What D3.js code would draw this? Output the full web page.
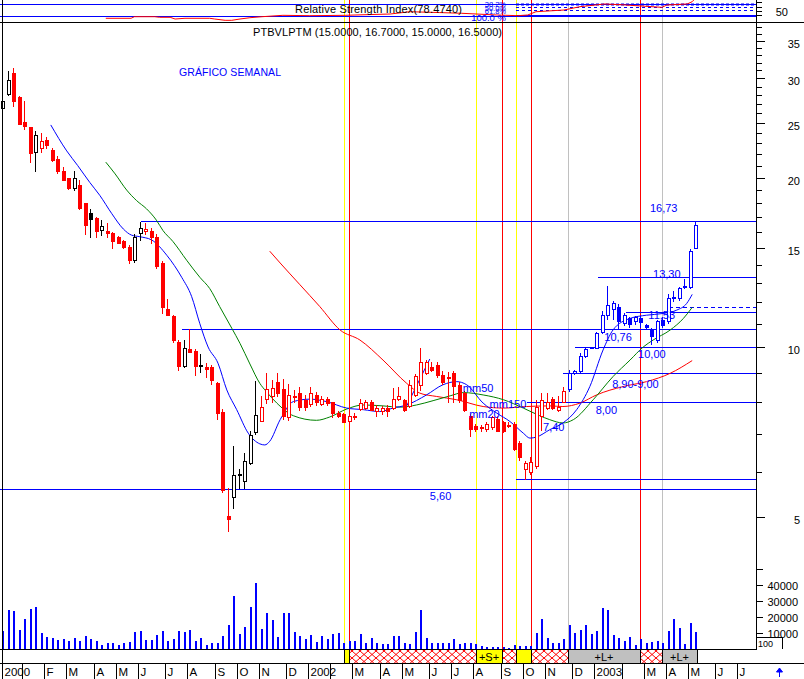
<!DOCTYPE html>
<html><head><meta charset="utf-8">
<script src="https://cdn.jsdelivr.net/npm/d3@7/dist/d3.min.js"></script>
<style>
html,body{margin:0;padding:0;background:#fff;}
svg{display:block;font-family:"Liberation Sans",Arial,sans-serif;}
</style></head><body>
<svg id="c" width="804" height="679"></svg>
<script>
// ---------------- DATA ----------------
const ticker = "PTBVLPTM";
const firstWeek = "2000-12-08";           // first weekly bar (Friday)
const opens = [26.6,28.2,30.7,27.8,25.1,24.6,22.2,22.6,23.3,22.4,
21.6,20.5,19.95,19.2,19.4,18.0,17.3,16.95,16.15,16.1,
15.95,15.7,15.4,15.05,14.3,15.95,16.1,16.1,15.7,14.1,
11.67,11.35,10.2,9.27,9.93,9.84,9.28,9.2,9.21,8.62,
7.68,5.02,5.42,5.93,5.79,6.22,7.05,7.4,8.07,8.17,
8.65,8.41,7.5,8.2,8.3,8.04,7.92,8.22,7.92,8.1,
7.98,7.63,7.6,7.4,7.55,7.76,7.8,8.0,7.7,7.7,
7.8,7.79,8.1,8.04,7.86,8.22,8.57,8.98,9.2,9.28,
8.92,8.85,8.98,8.57,8.28,7.55,7.25,7.2,7.16,7.2,
7.45,7.35,7.25,7.3,6.75,6.08,6.0,6.15,7.55,7.8,
8.1,7.74,8.0,8.43,9.0,9.05,9.62,9.98,9.95,10.62,
11.42,11.7,11.8,11.05,11.25,11.1,11.28,10.95,10.75,10.3,
11.15,11.1,12.2,12.2,12.85,12.8,15.0];
const highs = [27.6,30.9,31.3,27.9,27.4,24.6,24.2,24.0,23.6,22.6,
21.8,20.9,20.0,20.5,19.8,18.0,17.6,17.0,16.8,16.6,
16.0,15.75,15.5,15.2,15.9,16.7,16.6,16.3,15.9,14.2,
12.15,11.4,10.3,10.29,10.75,9.9,9.7,9.35,9.29,8.65,
7.75,5.62,6.66,6.06,6.48,7.08,8.71,8.2,8.98,8.74,
9.0,8.79,8.6,8.39,8.5,8.22,8.48,8.33,8.2,8.15,
8.0,7.7,7.65,7.83,7.65,8.1,8.05,8.05,7.9,7.85,
7.9,8.45,8.5,8.1,8.74,8.95,9.95,9.5,9.42,9.4,
9.05,9.02,9.05,8.65,8.35,7.6,7.3,7.28,7.35,7.55,
7.55,7.4,7.35,7.35,6.8,6.28,6.37,8.06,8.3,8.28,
8.15,8.2,8.5,9.1,9.1,9.75,10.0,10.02,10.65,11.58,
12.82,12.05,11.9,11.5,11.3,11.35,11.35,11.0,10.8,11.15,
11.3,12.42,12.6,12.8,13.2,14.95,16.7];
const lows = [26.3,28.0,26.8,24.9,24.4,21.3,20.5,22.2,22.6,21.4,
20.4,19.8,19.1,19.0,17.6,15.9,15.7,15.7,15.8,15.7,
15.0,15.3,15.0,14.1,14.15,15.5,15.9,15.3,13.8,11.5,
11.4,10.2,9.1,9.2,9.8,8.92,9.04,8.83,8.59,7.46,
5.52,4.71,5.18,5.62,5.62,6.2,7.0,7.38,7.95,8.0,
8.17,7.45,7.43,8.0,7.72,7.74,7.86,7.9,7.9,7.9,
7.5,7.5,7.35,7.25,7.45,7.72,7.75,7.72,7.55,7.6,
7.55,7.75,8.05,7.7,7.84,8.2,8.39,8.95,9.05,8.85,
8.6,8.0,7.98,8.0,7.7,6.95,7.1,7.1,7.1,7.15,
7.1,7.05,7.2,6.55,6.3,5.84,5.94,6.1,7.13,7.75,
7.75,7.7,8.0,8.35,8.95,9.0,9.6,9.95,9.95,10.6,
11.2,11.2,10.76,10.95,10.85,11.0,10.85,10.8,10.13,10.2,
10.85,11.05,12.05,12.1,12.75,12.75,15.0];
const closes = [27.4,29.8,27.4,24.9,24.7,22.1,23.8,23.2,22.8,21.5,
20.5,19.8,19.2,20.0,17.65,16.5,16.85,16.1,16.4,15.95,
15.4,15.3,15.05,14.26,15.7,16.25,16.2,15.7,13.9,11.8,
11.4,10.29,9.25,9.95,9.81,9.25,9.26,9.15,8.74,7.63,
5.58,4.94,5.93,5.95,6.27,6.99,7.58,7.84,8.41,8.45,
8.28,7.55,8.22,8.15,7.82,7.82,8.28,8.0,8.1,7.95,
7.63,7.55,7.37,7.55,7.53,7.95,7.98,7.74,7.8,7.8,
7.7,8.1,8.2,7.74,8.57,8.88,9.42,9.42,9.1,8.92,
8.68,8.82,8.53,8.06,7.74,7.16,7.15,7.18,7.3,7.5,
7.1,7.1,7.28,6.6,6.38,6.22,6.24,7.84,8.04,8.0,
7.78,7.84,8.36,9.0,9.05,9.65,9.92,10.0,10.57,11.42,
11.86,11.95,11.1,11.38,10.97,11.3,11.08,10.87,10.45,11.1,
10.95,12.2,12.25,12.72,12.8,14.8,16.5];
const volumes = [11200,24200,23600,11800,18400,24700,25900,10100,7200,6600,
5600,6000,5000,6600,5200,8100,6000,5000,2500,3500,
3500,2500,3500,4500,10800,11200,5600,5600,8700,11200,
5000,6200,11200,10800,11800,5000,6600,2500,3500,3500,
8300,14900,32900,9100,13500,25900,41200,12200,22600,18000,
7700,22600,22200,10300,8300,6000,8700,4500,8100,6200,
9300,9700,3900,5000,5000,9100,3900,6600,3900,3100,
3100,8100,8100,3900,3100,10800,24200,7000,3900,3900,
3900,3900,6200,3100,3500,3500,3100,1900,1400,1400,
1000,1400,400,2500,1900,1900,1900,10100,18600,6600,
3900,3900,6000,14900,10100,11800,14900,9300,11200,25300,
24200,8700,6600,5000,7200,2500,6000,3900,4500,5200,
3900,11200,18600,13200,3100,15900,10300];

// moving averages: [week index, value]
const mm20 = [[8.8,24.8],[11.7,22.3],[13.7,21.0],[15.9,19.6],[17.7,18.6],[19.9,17.25],[22,16.2],[23.5,15.8],[25,15.7],[27.1,15.5],[29.9,14.55],[32.6,13.3],[34.4,12.3],[35.9,11.0],[37.4,10.0],[39.2,9.36],[40.8,8.39],[42.6,7.74],[44.7,7.03],[46.8,6.73],[47.7,6.70],[48.6,6.80],[50.5,7.43],[52.9,8.0],[55.9,8.08],[58.9,8.0],[62.6,7.79],[65.6,7.74],[68.6,7.68],[71,7.79],[73.5,7.89],[77.1,8.22],[80.1,8.57],[82.6,8.68],[84.4,8.57],[87.4,7.95],[89.9,7.63],[92.3,7.37],[94.7,7.03],[95.9,6.89],[97.1,6.92],[99.5,7.13],[101.9,7.33],[104.4,7.74],[106.8,8.51],[109.2,9.88],[111,10.72],[114.1,11.24],[117.1,11.39],[120.1,11.47],[122.6,11.63],[124.4,11.95],[125.4,12.4]];
const mm50 = [[18.8,21.3],[20.5,20.3],[22.6,19.0],[24.4,18.2],[26.2,17.6],[28,16.8],[29.2,16.1],[31,15.4],[33.5,14.26],[35.9,13.3],[37.7,12.7],[39.5,11.8],[41.7,10.8],[43.2,10.15],[45,9.33],[46.8,8.62],[48,8.33],[49.9,7.95],[52.9,7.55],[57.1,7.41],[59.5,7.51],[62.6,7.76],[65.6,7.89],[69.2,7.86],[72.3,7.82],[75.3,7.89],[78.3,8.03],[81.4,8.19],[83.8,8.30],[87.4,8.22],[91.1,8.06],[94.7,7.79],[97.7,7.55],[99.5,7.43],[101.9,7.33],[103.8,7.43],[107.4,8.06],[111,8.86],[114.1,9.48],[116.5,10.0],[118.3,10.29],[121.4,10.72],[123.8,11.24],[125.4,11.76]];
const mm150 = [[48.6,14.8],[50.5,14.1],[54.1,12.9],[57.7,11.8],[61.4,10.72],[65,10.29],[69.2,9.48],[73.5,8.62],[75.9,8.28],[78.9,8.17],[82.6,8.06],[87.4,7.84],[91.1,7.79],[95.3,7.84],[99.5,7.86],[101.9,7.84],[105,7.95],[108,8.22],[112.9,8.51],[117.1,8.68],[121.4,8.98],[125.4,9.46]];
const rsiPoints = [[18.8,33.8],[23.4,33.8],[24,37.3],[27.7,37.3],[28.6,36],[30.5,36],[31.4,32.2],[33.2,33.8],[37.7,33.8],[38.6,32.2],[40.5,29.3],[41.7,29.3],[43.2,32.2],[45,35.1],[47.2,37.3],[51,40.4],[55.9,39.6],[62.3,40.4],[64.1,41.1],[70.5,43.3],[74.1,48.4],[79.5,46.5],[83.5,44.9],[89.9,41.1],[93.7,39.6],[95.5,41.1],[97,48.4],[102.1,52.2],[105,59.6],[109.5,65.6],[113.2,63.5],[116.1,61.1],[119.9,58.2],[120.8,63.3],[124.5,65.6],[125.4,70.7],[126,78.474]];
const rsiLast = 78.4740;
const rsiBands = [65, 38.2];
const fibStart = "2002-09-23";
const fibLevels = [65.6, 59.6, 52.2];
const fibTexts = ["38.2%", "50.0%", "61.8%", "100.0 %"];
const trendLine = [[73.5,7.86],[77.7,9.52]];

// horizontal price levels
const levelValues = [16.73, 13.30, 11.53, 10.76, 10.00, 9.00, 8.00, 5.84, 5.60];
const levelStarts = ["2001-06-03","2003-01-05","2003-02-10","2001-07-25","2002-12-07","2002-11-22","2002-10-06","2002-09-23","2000-12-05"];
const pendingLevel = {value: 11.76, start: "2003-04-05"};
// annotation texts anchored in data space (date, price)
const noteTexts  = ["16,73","13,30","11,53","10,76","10,00","8,90-9,00","8,00","7,40","5,60","mm50","mm150","mm20"];
const noteDates  = ["2003-03-12","2003-03-16","2003-03-10","2003-01-13","2003-02-25","2003-01-23","2003-01-02","2002-10-27","2002-06-05","2002-07-17","2002-08-20","2002-07-25"];
const noteValues = [17.37,13.26,11.21,10.25,9.56,8.46,7.60,7.09,5.35,8.32,7.79,7.48];

// trading signal zones
const zoneStarts = ["2002-02-16","2002-02-22","2002-08-03","2002-09-05","2002-09-22","2002-10-12","2002-11-28","2003-02-28","2003-03-28"];
const zoneEnds   = ["2002-02-22","2002-08-03","2002-09-05","2002-09-22","2002-10-12","2002-11-28","2003-02-28","2003-03-28","2003-05-11"];
const zoneKinds  = ["Y","X","Y","X","Y","X","L","X","L"];
const zoneLabels = ["","","+S+","","","","+L+","","+L+"];
const positionStarts = ["2001-11-01","2002-11-28"];   // short, then long
const positionSides  = ["short","long"];

const monthLabels = ["2000","","F","M","A","M","J","J","A","S","O","N","D","2002","","M","A","M","J","J","A","S","O","N","D","2003","","M","A","M","J","J"];
const priceTicks = [5,10,15,20,25,30,35];
const volumeTicks = [10000,20000,30000,40000];
const rsiTicks = [50];

// ---------------- CHART ----------------
const parse = d3.utcParse("%Y-%m-%d");
const DAY = 86400000;
const week0 = parse(firstWeek);
const dateOf = i => new Date(week0.getTime() + i * 7 * DAY);
const x = d3.scaleUtc().domain([parse("2000-12-05"), parse("2003-07-25")]).range([0, 756]);
const y = d3.scaleLog().domain([5, 35]).range([516.5, 40.7]);
const yv = d3.scaleLinear().domain([0, 40000]).range([649, 584.6]);
const yr = d3.scaleLinear().domain([0, 100]).range([33.5, -11.5]);
const BLUE = "#0000ff", RED = "#ff0000", GREEN = "#008000", YEL = "#ffff00", GRAY = "#c0c0c0";
const px = v => Math.round(v) + 0.5;

const svg = d3.select("#c");
const defs = svg.append("defs");
const pat = defs.append("pattern").attr("id", "xh").attr("width", 8).attr("height", 7).attr("patternUnits", "userSpaceOnUse");
pat.append("rect").attr("width", 8).attr("height", 7).attr("fill", "#fff");
pat.append("path").attr("d", "M0,0L8,7M8,0L0,7").attr("stroke", RED).attr("stroke-width", 1).attr("fill", "none");
defs.append("clipPath").attr("id", "rsiClip").append("rect").attr("x", 0).attr("y", 0).attr("width", 756).attr("height", 22);

svg.append("rect").attr("width", 804).attr("height", 679).attr("fill", "#fff");

// vertical signal lines
const vColor = {Y: YEL, X: RED, L: GRAY};
const gV = svg.append("g");
zoneStarts.forEach((s, i) => {
  const xx = px(x(parse(s)));
  gV.append("line").attr("x1", xx).attr("x2", xx).attr("y1", 0).attr("y2", 649)
    .attr("stroke", vColor[zoneKinds[i]]).attr("stroke-width", 1);
});

// ---- RSI panel ----
const gR = svg.append("g");
rsiBands.forEach(v => {
  gR.append("line").attr("x1", 0).attr("x2", 756).attr("y1", px(yr(v))).attr("y2", px(yr(v)))
    .attr("stroke", BLUE).attr("stroke-width", 1);
});
const fx = Math.round(x(parse(fibStart)));
fibLevels.forEach((v, i) => {
  gR.append("line").attr("x1", fx).attr("x2", 756).attr("y1", px(yr(v))).attr("y2", px(yr(v)))
    .attr("stroke", BLUE).attr("stroke-width", i === 0 ? 2 : 1).attr("stroke-dasharray", i === 0 ? "3,2" : "3,3");
});
gR.append("line").attr("x1", fx).attr("x2", 756).attr("y1", Math.round(yr(38.2))).attr("y2", Math.round(yr(38.2)))
  .attr("stroke", BLUE).attr("stroke-width", 2);
const rsiLine = d3.line().x(d => x(dateOf(d[0]))).y(d => yr(d[1]));
gR.append("path").attr("clip-path", "url(#rsiClip)").attr("d", rsiLine(rsiPoints))
  .attr("fill", "none").attr("stroke", RED).attr("stroke-width", 1);
gR.append("text").attr("x", 295).attr("y", 13).attr("font-size", 11).attr("textLength", 167)
  .attr("fill", "#000").text(`Relative Strength Index(${rsiLast.toFixed(4)})`);
const fibY = [7, 10.5, 14, 20.5];
const fibSize = [7.5, 7.5, 7.5, 9.5];
fibTexts.forEach((t, i) => {
  gR.append("text").attr("x", 506).attr("y", fibY[i]).attr("text-anchor", "end")
    .attr("font-size", fibSize[i]).attr("fill", BLUE).text(t);
});

// frame lines
svg.append("line").attr("x1", 0).attr("x2", 804).attr("y1", 22.5).attr("y2", 22.5).attr("stroke", "#000");

// titles
const last = opens.length - 1;
svg.append("text").attr("x", 253).attr("y", 36).attr("font-size", 11).attr("textLength", 249)
  .text(`${ticker} (${opens[last].toFixed(4)}, ${highs[last].toFixed(4)}, ${lows[last].toFixed(4)}, ${closes[last].toFixed(4)})`);
svg.append("text").attr("x", 179).attr("y", 76).attr("font-size", 10.5).attr("textLength", 102)
  .attr("fill", BLUE).text("GRÁFICO SEMANAL");

// horizontal price levels
const gL = svg.append("g");
levelValues.forEach((v, i) => {
  const yy = px(y(v));
  gL.append("line").attr("x1", Math.max(0, Math.round(x(parse(levelStarts[i]))))).attr("x2", 756)
    .attr("y1", yy).attr("y2", yy).attr("stroke", BLUE).attr("stroke-width", 1);
});
gL.append("line").attr("x1", Math.round(x(parse(pendingLevel.start)))).attr("x2", 756)
  .attr("y1", px(y(pendingLevel.value))).attr("y2", px(y(pendingLevel.value)))
  .attr("stroke", BLUE).attr("stroke-dasharray", "4,3");

// moving averages
const maLine = d3.line().x(d => x(dateOf(d[0]))).y(d => y(d[1])).curve(d3.curveMonotoneX);
svg.append("path").attr("d", maLine(mm150)).attr("fill", "none").attr("stroke", RED).attr("stroke-width", 1);
svg.append("path").attr("d", maLine(mm50)).attr("fill", "none").attr("stroke", GREEN).attr("stroke-width", 1);
svg.append("path").attr("d", maLine(mm20)).attr("fill", "none").attr("stroke", BLUE).attr("stroke-width", 1);
svg.append("path").attr("d", d3.line().x(d => x(dateOf(d[0]))).y(d => y(d[1]))(trendLine))
  .attr("fill", "none").attr("stroke", BLUE).attr("stroke-width", 1);

// candles
const posStarts = positionStarts.map(parse);
function candleColor(i) {
  const d = dateOf(i);
  let side = null;
  posStarts.forEach((s, k) => { if (d >= s) side = positionSides[k]; });
  if (side === "long") return BLUE;
  if (side === "short") return RED;
  if (i === 0) return "#000";
  return closes[i] >= closes[i - 1] ? "#000" : RED;
}
const gC = svg.append("g").attr("shape-rendering", "crispEdges");
opens.forEach((o, i) => {
  const c = closes[i], h = highs[i], l = lows[i];
  const cx = Math.round(x(dateOf(i)));
  const col = candleColor(i);
  gC.append("line").attr("x1", cx + 0.5).attr("x2", cx + 0.5)
    .attr("y1", Math.round(y(h))).attr("y2", Math.round(y(l)) + 1).attr("stroke", col);
  const yt = Math.round(y(Math.max(o, c))), yb = Math.round(y(Math.min(o, c)));
  if (c < o || yb - yt < 2) {
    gC.append("rect").attr("x", cx - 1.5).attr("y", yt).attr("width", 4).attr("height", Math.max(1, yb - yt) + 1).attr("fill", col);
  } else {
    gC.append("rect").attr("x", cx - 1).attr("y", yt + 0.5).attr("width", 3).attr("height", yb - yt)
      .attr("fill", "#fff").attr("stroke", col).attr("stroke-width", 1);
  }
});

// annotation texts
noteTexts.forEach((t, i) => {
  svg.append("text").attr("x", x(parse(noteDates[i]))).attr("y", y(noteValues[i]))
    .attr("font-size", 11).attr("fill", BLUE).text(t);
});

// volume
const gVol = svg.append("g").attr("shape-rendering", "crispEdges");
volumes.forEach((v, i) => {
  const cx = Math.round(x(dateOf(i)));
  gVol.append("rect").attr("x", cx - 0.5).attr("y", yv(v)).attr("width", 2).attr("height", 649 - yv(v)).attr("fill", BLUE);
});

// signal row
const zFill = {Y: YEL, X: "url(#xh)", L: GRAY};
const gS = svg.append("g").attr("shape-rendering", "crispEdges");
zoneStarts.forEach((s, i) => {
  const x0 = Math.round(x(parse(s))), x1 = Math.round(x(parse(zoneEnds[i])));
  gS.append("rect").attr("x", x0 + 0.5).attr("y", 649.5).attr("width", x1 - x0).attr("height", 14)
    .attr("fill", zFill[zoneKinds[i]]).attr("stroke", "#000").attr("stroke-width", 1);
  if (zoneLabels[i]) gS.append("text").attr("x", (x0 + x1) / 2).attr("y", 660.5).attr("text-anchor", "middle")
    .attr("font-size", 11).text(zoneLabels[i]);
});
svg.append("line").attr("x1", 0).attr("x2", 756).attr("y1", 649.5).attr("y2", 649.5).attr("stroke", "#000");
svg.append("line").attr("x1", 0).attr("x2", 804).attr("y1", 663.5).attr("y2", 663.5).attr("stroke", "#000");
svg.append("line").attr("x1", 2.5).attr("x2", 2.5).attr("y1", 0).attr("y2", 664).attr("stroke", "#000");
svg.append("line").attr("x1", 756.5).attr("x2", 756.5).attr("y1", 0).attr("y2", 650).attr("stroke", "#000");

// price axis
const gA = svg.append("g").attr("font-size", 11);
for (let v = 5; v <= 37; v++) {
  const yy = px(y(v));
  if (yy < 24) continue;
  const major = priceTicks.includes(v);
  gA.append("line").attr("x1", 756.5).attr("x2", major ? 765 : 762).attr("y1", yy).attr("y2", yy).attr("stroke", "#000");
  if (major) gA.append("text").attr("x", 800).attr("y", yy + 6).attr("text-anchor", "end").text(v);
}
[10000, 20000, 30000, 40000, 50000].forEach(v => {
  const yy = px(yv(v));
  gA.append("line").attr("x1", 756.5).attr("x2", 763).attr("y1", yy).attr("y2", yy).attr("stroke", "#000");
  if (volumeTicks.includes(v)) gA.append("text").attr("x", 798).attr("y", yy + 4).attr("text-anchor", "end").text(v);
});
[40, 50, 60, 70].forEach(v => {
  const yy = px(yr(v));
  gA.append("line").attr("x1", 756.5).attr("x2", 762).attr("y1", yy).attr("y2", yy).attr("stroke", "#000");
  if (rsiTicks.includes(v)) gA.append("text").attr("x", 788).attr("y", yy + 4).attr("text-anchor", "end").text(v);
});
// small "100" box at volume axis
gA.append("path").attr("d", "M756.5,637.5H782.5V649").attr("fill", "none").attr("stroke", "#000");
gA.append("text").attr("x", 758).attr("y", 647).attr("font-size", 9).text("100");

// month axis
const gM = svg.append("g").attr("font-size", 11.5);
monthLabels.forEach((lab, i) => {
  const mStart = d3.utcMonth.offset(parse("2000-12-01"), i);
  let fri = d3.utcFriday.ceil(mStart);
  if (fri < week0) fri = week0;
  const tx = Math.max(2, Math.round(x(fri)) - 2);
  gM.append("line").attr("x1", tx + 0.5).attr("x2", tx + 0.5).attr("y1", 664).attr("y2", 679).attr("stroke", "#000");
  if (lab) gM.append("text").attr("x", tx + 2.5).attr("y", 676).text(lab);
});
// blue arrow
svg.append("path").attr("d", "M779.5,669V677M776.5,672L779.5,668L782.5,672Z").attr("stroke", BLUE).attr("fill", BLUE).attr("stroke-width", 1);
</script>
</body></html>
